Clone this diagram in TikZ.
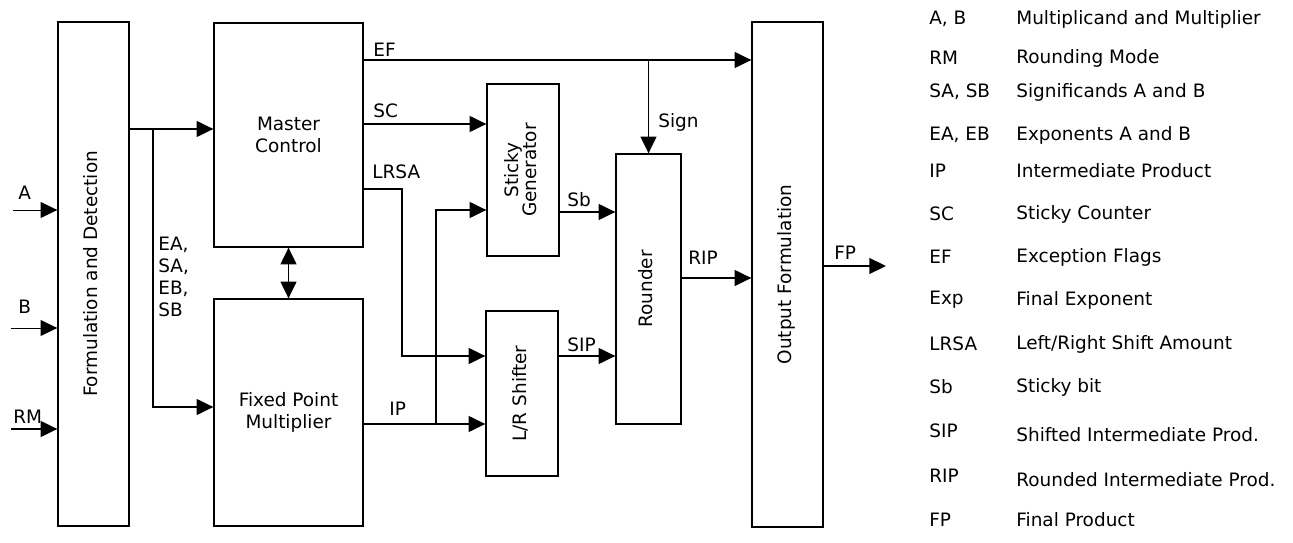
\documentclass[tikz,border=0pt]{standalone}
\usepackage{fontspec}
\setmainfont{DejaVu Sans}
\usepackage{graphicx}
\usetikzlibrary{positioning,arrows.meta}
\newcommand{\lsize}{\fontsize{10.5}{12.5}\selectfont}
\newcommand{\vlab}[1]{\rotatebox{90}{\begin{tabular}{@{}c@{}}#1\end{tabular}}}
\tikzset{
  blk/.style ={rectangle, draw=black, line width=0.75pt, inner sep=0pt,
               align=center, font=\lsize},
  arr/.style ={-{Triangle[length=9.5pt,width=9pt]}, line width=1pt},
  tarr/.style={-{Triangle[length=9.5pt,width=9pt]}, line width=0.5pt},
  darr/.style={{Triangle[length=9.5pt,width=9pt]}-{Triangle[length=9.5pt,width=9pt]},
               line width=1pt},
  sig/.style ={font=\lsize, inner sep=0pt, anchor=west, align=left},
  key/.style ={font=\lsize, inner sep=0pt, anchor=west},
}

\begin{document}
\begin{tikzpicture}[x=0.02cm, y=-0.02cm]
  \useasboundingbox (0,0) rectangle (1293,543);
  % blocks
  \node[blk, minimum width=1.42cm, minimum height=10.08cm] (fd) at (93.5,274) {\vlab{Formulation and Detection}};
  \node[blk, minimum width=2.98cm, minimum height=4.48cm] (mc) at (288.5,135) {Master\\Control};
  \node[blk, minimum width=2.98cm, minimum height=4.54cm] (fpm) at (288.5,412.5) {Fixed Point\\Multiplier};
  \node[blk, minimum width=1.44cm, minimum height=3.44cm] (sg) at (523,170) {\vlab{Sticky\\[-2pt]Generator}};
  \node[blk, minimum width=1.44cm, minimum height=3.3cm] (lrs) at (522,393.5) {\vlab{L/R Shifter}};
  \node[blk, minimum width=1.3cm, minimum height=5.4cm] (rnd) at (648.5,289) {\vlab{Rounder}};
  \node[blk, minimum width=1.42cm, minimum height=10.1cm] (of) at (787.5,274.5) {\vlab{Output Formulation}};
  % inputs
  \coordinate (ain) at (13,210);
  \coordinate (bin) at (11,328);
  \coordinate (rmin) at (11,429);
  \draw[tarr] (ain) -- (ain -| fd.west);
  \draw[tarr] (bin) -- (bin -| fd.west);
  \draw[arr] (rmin) -- (rmin -| fd.west);
  \node[sig] (la) at (18,193) {A};
  \node[sig] (lb) at (18,307) {B};
  \node[sig] (lrm) at (13,417) {RM};
  % formulation -> master control / multiplier
  \coordinate (fdo) at (fd.east |- 0,129);
  \coordinate (br) at (153,129);
  \draw[arr] (fdo) -- (fdo -| mc.west);
  \draw[arr] (br) |- (fpm.west |- 0,407);
  \node[sig, anchor=north west] (lops) at (158,237) {EA,\\SA,\\EB,\\SB};
  \draw[darr] (mc) -- (fpm);
  % master control outputs
  \coordinate (ef) at (mc.east |- 0,60);
  \coordinate (sgn) at (rnd.north |- 0,60);
  \draw[arr] (ef) -- (ef -| of.west);
  \draw[arr] (sgn) -- (rnd.north);
  \draw[arr] (mc.east |- 0,124) -- (sg.west |- 0,124);
  \coordinate (lrsa) at (402,189);
  \draw[arr] (mc.east |- lrsa) -- (lrsa) |- (lrs.west |- 0,356);
  \node[sig] (lef) at (373,50) {EF};
  \node[sig] (lsc) at (373,111) {SC};
  \node[sig] (llrsa) at (372,172) {LRSA};
  \node[sig] (lsign) at (658,122) {Sign};
  % product path
  \coordinate (ipb) at (436,424);
  \draw[arr] (fpm.east |- ipb) -- (lrs.west |- ipb);
  \draw[arr] (ipb) |- (sg.west |- 0,210);
  \draw[arr] (sg.east |- 0,212) -- (rnd.west |- 0,212);
  \draw[arr] (lrs.east |- 0,356) -- (rnd.west |- 0,356);
  \draw[arr] (rnd.east |- 0,278) -- (of.west |- 0,278);
  \coordinate (fpo) at (886,266);
  \draw[arr] (of.east |- fpo) -- (fpo);
  \node[sig] (lip) at (389,409) {IP};
  \node[sig] (lsb) at (567,200) {Sb};
  \node[sig] (lsip) at (567,345) {SIP};
  \node[sig] (lrip) at (688,258) {RIP};
  \node[sig] (lfp) at (834,253) {FP};
  % legend
  \node[key] (k1)  at (929,19)  {A, B};
  \node[key] (d1)  at (1016,19) {Multiplicand and Multiplier};
  \node[key] (k2)  at (929,58)  {RM};
  \node[key] (d2)  at (1016,58) {Rounding Mode};
  \node[key] (k3)  at (929,92)  {SA, SB};
  \node[key] (d3)  at (1016,92) {Significands A and B};
  \node[key] (k4)  at (929,135) {EA, EB};
  \node[key] (d4)  at (1016,135) {Exponents A and B};
  \node[key] (k5)  at (929,171) {IP};
  \node[key] (d5)  at (1016,171) {Intermediate Product};
  \node[key] (k6)  at (929,214) {SC};
  \node[key] (d6)  at (1016,214) {Sticky Counter};
  \node[key] (k7)  at (929,257) {EF};
  \node[key] (d7)  at (1016,257) {Exception Flags};
  \node[key] (k8)  at (929,300) {Exp};
  \node[key] (d8)  at (1016,300) {Final Exponent};
  \node[key] (k9)  at (929,344) {LRSA};
  \node[key] (d9)  at (1016,344) {Left/Right Shift Amount};
  \node[key] (k10) at (929,387) {Sb};
  \node[key] (d10) at (1016,387) {Sticky bit};
  \node[key] (k11) at (929,431) {SIP};
  \node[key] (d11) at (1016,435) {Shifted Intermediate Prod.};
  \node[key] (k12) at (929,476) {RIP};
  \node[key] (d12) at (1016,480) {Rounded Intermediate Prod.};
  \node[key] (k13) at (929,520) {FP};
  \node[key] (d13) at (1016,520) {Final Product};
\end{tikzpicture}
\end{document}
